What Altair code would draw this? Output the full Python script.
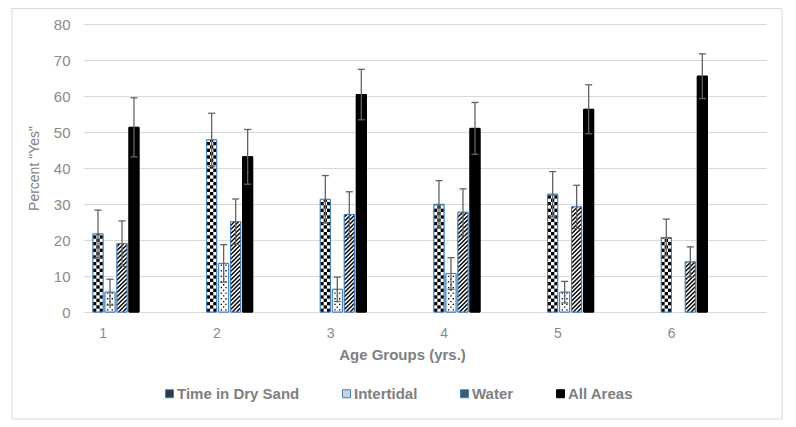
import altair as alt
import pandas as pd
import numpy as np

# ---------------- data ----------------
groups = [1, 2, 3, 4, 5, 6]
series = ["Time in Dry Sand", "Intertidal", "Water", "All Areas"]
dry_sand = [21.7, 47.8, 31.3, 29.9, 32.7, 20.7]
dry_sand_err = [6.6, 7.4, 6.6, 6.6, 6.3, 5.1]
intertidal = [5.5, 13.5, 6.3, 10.7, 5.5, None]
intertidal_err = [3.6, 5.2, 3.4, 4.4, 3.0, None]
water = [19.0, 25.1, 27.1, 27.7, 29.2, 13.9]
water_err = [6.3, 6.3, 6.3, 6.5, 6.0, 4.2]
all_areas = [51.3, 43.1, 60.4, 51.0, 56.3, 65.5]
all_areas_err = [8.2, 7.6, 7.0, 7.2, 6.8, 6.2]
y_ticks = [0, 10, 20, 30, 40, 50, 60, 70, 80]

# ---------------- layout ----------------
W, H = 682, 288
Y_MAX = 80
PX_X = W / len(groups)      # pixels per category unit
PX_Y = H / Y_MAX            # pixels per percent
OFFSET, PITCH, BAR_W = 0.079, 0.1056, 0.088
CAP = 0.031
LABEL_OFF = 0.165

vals = [dry_sand, intertidal, water, all_areas]
errs = [dry_sand_err, intertidal_err, water_err, all_areas_err]

bar_rows, cell_rows, line_rows = [], [], []
for gi, g in enumerate(groups):
    for si, s in enumerate(series):
        v = vals[si][gi]
        e = errs[si][gi]
        if v is None:
            continue
        x0 = gi + OFFSET + si * PITCH
        x1 = x0 + BAR_W
        xc = (x0 + x1) / 2
        bar_rows.append(dict(group=g, series=s, x0=x0, x1=x1, xc=xc,
                             cap0=xc - CAP, cap1=xc + CAP, value=v, zero=0.0,
                             lo=v - e, hi=v + e))
        if si == 0:  # checkerboard
            cw = BAR_W / 3
            ch = cw * PX_X / PX_Y
            nrows = int(np.ceil(v / ch))
            for r in range(nrows):
                ya = r * ch
                yb = min(v, ya + ch)
                for c in range(3):
                    if (r + c) % 2 == 0:
                        cell_rows.append(dict(x=x0 + c * cw, x2=x0 + (c + 1) * cw, y=ya, y2=yb))
        elif si == 1:  # dotted
            dw = 1.3 / PX_X
            dh = 1.3 / PX_Y
            step = 2.8 / PX_Y
            y = step / 2
            r = 0
            while y + dh < v:
                fr = [0.27, 0.73] if r % 2 == 0 else [0.5]
                for f in fr:
                    xm = x0 + f * BAR_W
                    cell_rows.append(dict(x=xm - dw / 2, x2=xm + dw / 2, y=y, y2=y + dh))
                y += step
                r += 1
        elif si == 2:  # diagonal hatch
            k = PX_X / PX_Y
            sp = 4.2 / PX_Y
            ys = -k * BAR_W
            while ys < v:
                xa = max(x0, x0 + (0 - ys) / k)
                xb = min(x1, x0 + (v - ys) / k)
                if xb > xa:
                    line_rows.append(dict(x=xa, x2=xb, y=ys + k * (xa - x0), y2=ys + k * (xb - x0)))
                ys += sp

bars_df = pd.DataFrame(bar_rows)
cells_df = pd.DataFrame(cell_rows)
lines_df = pd.DataFrame(line_rows)

FONT = "Liberation Sans"
BLUE = "#3f7fbf"
GRAY_TXT = "#7f7f7f"

xscale = alt.Scale(domain=[0, len(groups)], nice=False, zero=False)
yscale = alt.Scale(domain=[0, Y_MAX], nice=False, zero=True)

x_axis = alt.Axis(values=[i + LABEL_OFF for i in range(len(groups))],
                  labelExpr="format(floor(datum.value) + 1, 'd')",
                  title="Age Groups (yrs.)", grid=False, ticks=False, tickSize=0,
                  domain=False, labelPadding=14, labelFlush=False,
                  labelFont=FONT, labelFontSize=14, labelColor="#8a8a8a",
                  titleFont=FONT, titleFontSize=15, titleFontWeight="bold",
                  titleColor=GRAY_TXT, titleX=318, titleY=47,
                  titleBaseline="alphabetic", titleAnchor="start", titleAlign="center")
y_axis = alt.Axis(values=y_ticks, tickCount=9, title='Percent "Yes"', grid=True,
                  gridColor="#d9d9d9", gridWidth=1, ticks=False, tickSize=0,
                  domain=False, labelPadding=14, labelFont=FONT, labelFontSize=15,
                  labelColor="#8a8a8a", labelOverlap=False, titleFont=FONT, titleFontSize=14,
                  titleFontWeight="normal", titleColor=GRAY_TXT, titleX=-46,
                  titleY=H / 2, titleBaseline="alphabetic", titleAnchor="start",
                  titleAlign="center", titleAngle=270)

legend = alt.Legend(title=None, orient="none", legendX=78, legendY=362,
                    direction="horizontal", columns=4, symbolType="square",
                    symbolSize=64, symbolStrokeWidth=1, labelFont=FONT,
                    labelFontSize=15, labelFontWeight="bold", labelColor=GRAY_TXT,
                    labelOffset=0, columnPadding=39, padding=0, gridAlign="each")


def X(field):
    return alt.X(field, scale=xscale, axis=x_axis)


def Y(field):
    return alt.Y(field, scale=yscale, axis=y_axis)


base = alt.Chart(bars_df)

# frame around the chart area
frame = alt.Chart(pd.DataFrame({"k": [0]})).mark_rect(
    fillOpacity=0, stroke="#d9d9d9", strokeWidth=1
).encode(x=alt.value(-72), x2=alt.value(698), y=alt.value(-15.5), y2=alt.value(395))

legend_layer = base.mark_rect(strokeWidth=1).encode(
    x=X("x0:Q"), x2="x1:Q", y=Y("value:Q"), y2="zero:Q",
    fill=alt.Fill("series:N", sort=series, legend=legend,
                  scale=alt.Scale(domain=series,
                                  range=["#2a3a4c", "#c9d3de", "#46566a", "#000000"])),
    stroke=alt.Stroke("series:N", sort=series, legend=legend,
                      scale=alt.Scale(domain=series,
                                      range=[BLUE, BLUE, BLUE, "#000000"])),
)

base_bars = base.mark_rect(strokeWidth=0).encode(
    x=X("x0:Q"), x2="x1:Q", y=Y("value:Q"), y2="zero:Q",
    fill=alt.condition("datum.series === 'All Areas'", alt.value("#000000"), alt.value("#ffffff")),
)

cells = alt.Chart(cells_df).mark_rect(color="#000000", strokeWidth=0).encode(
    x=X("x:Q"), x2="x2:Q", y=Y("y:Q"), y2="y2:Q")

hatch = alt.Chart(lines_df).mark_rule(color="#000000", strokeWidth=1.4).encode(
    x=X("x:Q"), x2="x2:Q", y=Y("y:Q"), y2="y2:Q")

outline = base.mark_rect(fillOpacity=0, strokeWidth=1).encode(
    x=X("x0:Q"), x2="x1:Q", y=Y("value:Q"), y2="zero:Q",
    stroke=alt.condition("datum.series === 'All Areas'", alt.value("#000000"), alt.value(BLUE)),
)

ERR = "#636363"
err_line = base.mark_rule(color=ERR, strokeWidth=1.3).encode(
    x=X("xc:Q"), y=Y("lo:Q"), y2="hi:Q")
cap_hi = base.mark_rule(color=ERR, strokeWidth=1.3).encode(
    x=X("cap0:Q"), x2="cap1:Q", y=Y("hi:Q"))
cap_lo = base.mark_rule(color=ERR, strokeWidth=1.3).encode(
    x=X("cap0:Q"), x2="cap1:Q", y=Y("lo:Q"))

chart = alt.layer(
    frame, legend_layer, base_bars, cells, hatch, outline, err_line, cap_hi, cap_lo
).properties(
    width=W, height=H,
    autosize=alt.AutoSizeParams(type="none"),
    padding={"left": 76, "top": 16, "right": 22, "bottom": 108},
    background="#ffffff",
).configure_view(stroke="transparent")

chart.save("out.html", embed_options={"renderer": "svg", "actions": False})
